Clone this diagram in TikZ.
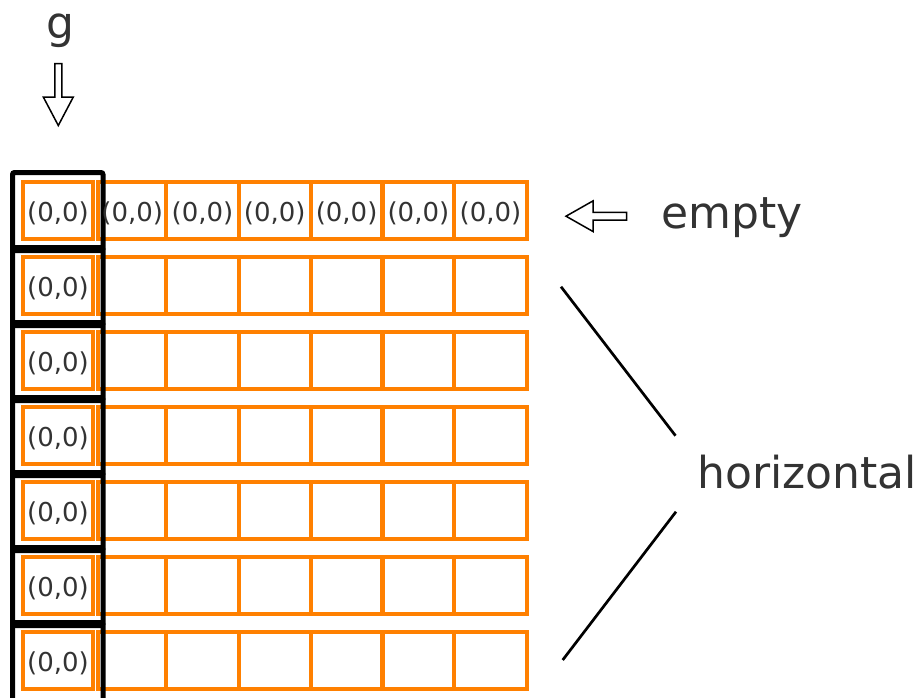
\documentclass[tikz,border=0pt]{standalone}
\usepackage{fontspec}
\setmainfont{DejaVu Sans}
\definecolor{txtgray}{HTML}{333333}
\definecolor{orng}{HTML}{FF8000}
\begin{document}
\begin{tikzpicture}[x=1pt,y=-1pt,
  blackbox/.style={draw=black,line width=5pt,rounded corners=2pt},
  orow/.style={draw=orng,line width=4.2pt},
  cell/.style={inner sep=0pt,text=txtgray,font=\fontsize{26}{30}\selectfont},
  big/.style={inner sep=0pt,text=txtgray,font=\fontsize{44}{52}\selectfont},
  blockarrow/.style={draw=black,fill=white,line width=1.5pt,line join=miter},
  thinline/.style={draw=black,line width=2.7pt}]
\useasboundingbox (0,0) rectangle (924,697);
\clip (0,0) rectangle (924,697);
% orange rows
\foreach \k in {0,...,6}{
  \draw[orow] (22.8,{182.2+75*\k}) rectangle (93,{239.3+75*\k});
  \draw[orow] (98,{182.2+75*\k}) rectangle (526.8,{239.3+75*\k});
  \foreach \xx in {166.3,238.6,310.6,382.5,454.2}{
    \draw[orow] (\xx,{182.2+75*\k}) -- (\xx,{239.3+75*\k});
  }
}
% black column boxes
\foreach \k in {0,...,6}{
  \draw[blackbox] (12.5,{172.5+75*\k}) rectangle (103,{250.5+75*\k});
}
% cell labels
\foreach \k in {0,...,6}{
  \node[cell] (c\k) at (58,{213+75*\k}) {(0,0)};
}
\foreach \xx [count=\i] in {132.2,202.5,274.7,346.6,418.4,490.5}{
  \node[cell] (r\i) at (\xx,213) {(0,0)};
}
% g and down arrow
\node[big,anchor=base] (g) at (60.5,38) {g};
\draw[blockarrow] (54.8,63.5) -- (61.8,63.5) -- (61.8,97) -- (73.3,97) -- (58.3,125.5) -- (43.3,97) -- (54.8,97) -- cycle;
% empty and left arrow
\node[big,anchor=base west] (empty) at (661,228) {empty};
\draw[blockarrow] (566,216.2) -- (593,200.9) -- (593,212.4) -- (626.5,212.4) -- (626.5,220) -- (593,220) -- (593,231.5) -- cycle;
% horizontal
\node[big,anchor=base west] (horiz) at (697,488.3) {horizontal};
\coordinate (l1a) at (561,286.7);
\coordinate (l1b) at (675.5,435.7);
\coordinate (l2a) at (676,511.7);
\coordinate (l2b) at (562.7,660);
\draw[thinline] (l1a) -- (l1b);
\draw[thinline] (l2a) -- (l2b);
\end{tikzpicture}
\end{document}
